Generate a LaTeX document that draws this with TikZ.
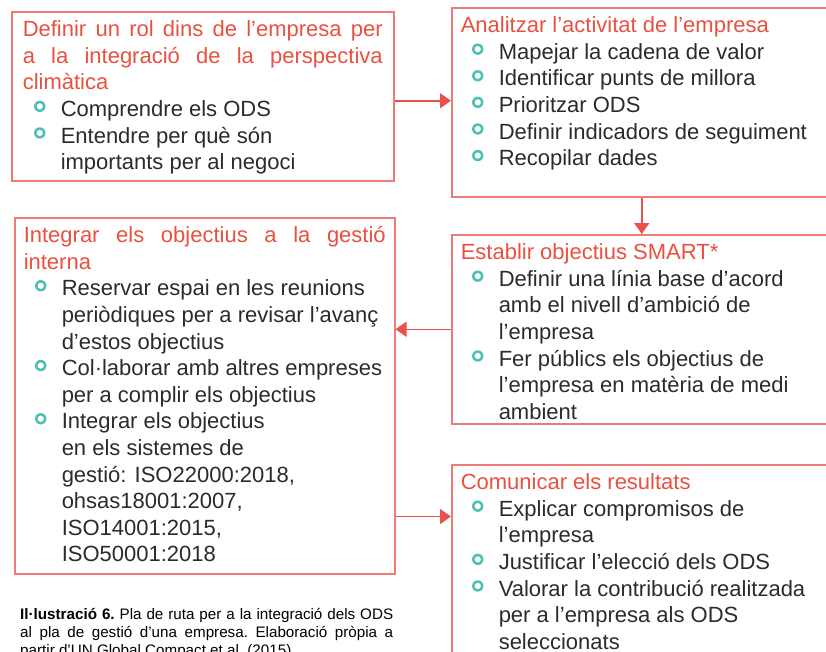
\documentclass[tikz,border=0pt]{standalone}
\usepackage{fontspec}
\setmainfont{Liberation Sans}
\usepackage{pict2e}
\usetikzlibrary{arrows.meta, positioning}
\definecolor{titlered}{HTML}{E9503F}
\definecolor{framered}{HTML}{EF7B78}
\definecolor{arrowred}{HTML}{E8524C}
\definecolor{ringteal}{HTML}{4CC0B2}
\definecolor{bodygray}{HTML}{2B2B2B}
\newcommand\ring{\raisebox{4.2pt}{\setlength\unitlength{1pt}\begin{picture}(12,12)\put(6,6){\textcolor{ringteal}{\circle*{11.4}}}\put(6,6){\textcolor{white}{\circle*{6.2}}}\end{picture}}}
\newcommand\stagetitle[1]{\noindent\textcolor{titlered}{#1}\par}
\newcommand\bitem[1]{\par\noindent\hangindent=38pt\hangafter=1\hspace*{11pt}\makebox[27pt][l]{\ring}#1\par}
\tikzstyle{stage} = [rectangle, draw=framered, line width=1.5pt, anchor=north west, inner xsep=9pt, inner ysep=9pt, text height=16pt, align=justify, text=bodygray, font=\fontsize{22}{26.6}\selectfont]
\tikzstyle{caption} = [inner sep=0pt, text width=373pt, align=justify, text=black, font=\fontsize{15.2}{18}\selectfont\frenchspacing]
\tikzstyle{arrow} = [-{Triangle[length=11pt,width=15pt]}, draw=arrowred, line width=1.5pt]

\begin{document}
\begin{tikzpicture}[x=1pt, y=-1pt]
    \useasboundingbox (0,0) rectangle (826,651);
    % boxes
    \node (rol) [stage, text width=360pt, inner xsep=11pt, text depth=135pt] at (11,11) {%
        \stagetitle{Definir un rol dins de l’empresa per\linebreak a la integració de la perspectiva\linebreak climàtica}
        \bitem{Comprendre els ODS}
        \bitem{Entendre per què són\\importants per al negoci}};
    \node (activ) [stage, text width=362pt, text depth=155pt] at (451,7) {%
        \stagetitle{Analitzar l’activitat de l’empresa}
        \bitem{Mapejar la cadena de valor}
        \bitem{Identificar punts de millora}
        \bitem{Prioritzar ODS}
        \bitem{Definir indicadors de seguiment}
        \bitem{Recopilar dades}};
    \node (smart) [stage, text width=362pt, text depth=155pt] at (451,234) {%
        \stagetitle{Establir objectius SMART*}
        \bitem{Definir una línia base d’acord\\amb el nivell d’ambició de\\l’empresa}
        \bitem{Fer públics els objectius de\\l’empresa en matèria de medi\\ambient}};
    \node (gestio) [stage, text width=362pt, text depth=322pt] at (14,217) {%
        \stagetitle{Integrar els objectius a la gestió\linebreak interna}
        \bitem{Reservar espai en les reunions\\periòdiques per a revisar l’avanç\\d’estos objectius}
        \bitem{Col·laborar amb altres empreses\\per a complir els objectius}
        \bitem{Integrar els objectius\\en els sistemes de\\gestió: ISO22000:2018,\\ohsas18001:2007,\\ISO14001:2015,\\ISO50001:2018}};
    \node (comunica) [stage, text width=362pt, text depth=200pt] at (451,464) {%
        \stagetitle{Comunicar els resultats}
        \bitem{Explicar compromisos de\\l’empresa}
        \bitem{Justificar l’elecció dels ODS}
        \bitem{Valorar la contribució realitzada\\per a l’empresa als ODS\\seleccionats}};
    \node (peu) [caption, below right=33.4pt and 6pt of gestio.south west] {%
        \textbf{Il·lustració 6.} Pla de ruta per a la integració dels ODS\linebreak al pla de gestió d’una empresa. Elaboració pròpia a\linebreak partir d’UN Global Compact et al. (2015).};

    % arrows
    \draw [arrow] ([yshift=-4.5pt]rol.east) -- ([yshift=-4.5pt]rol.east -| activ.west);
    \draw [arrow] (activ.south) -- (smart.north);
    \draw [arrow] (smart.west) -- (smart.west -| gestio.east);
    \draw [arrow] ([yshift=58pt]gestio.south east) -- ([yshift=58pt]gestio.south east -| comunica.west);
\end{tikzpicture}
\end{document}
